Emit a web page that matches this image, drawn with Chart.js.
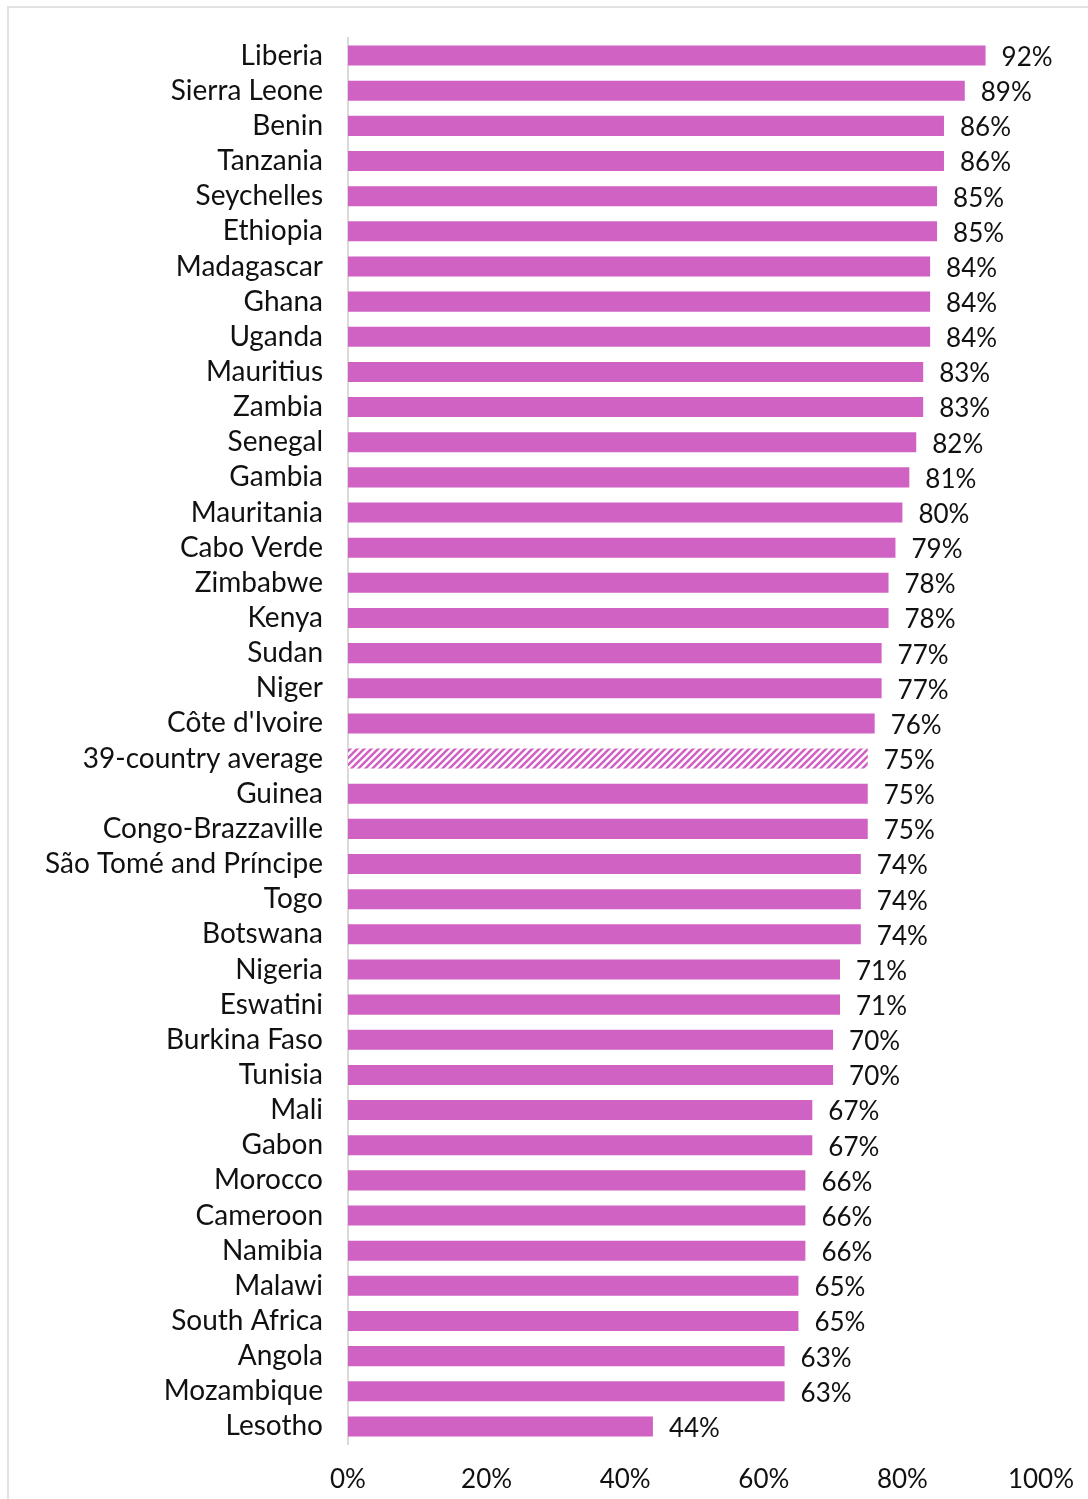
<!DOCTYPE html>
<html>
<head>
<meta charset="utf-8">
<script src="https://cdn.jsdelivr.net/npm/chart.js@4"></script>
<style>
  html, body { margin: 0; padding: 0; background: #fff; }
  .frame { position: absolute; left: 7px; top: 6px; width: 1100px; height: 1510px; border: 2px solid #e2e2e2; box-sizing: border-box; }
  .box { position: absolute; left: 0; top: 0; width: 1088px; height: 1499px; }
</style>
</head>
<body>
<div class="frame"></div>
<div class="box"><canvas id="myChart"></canvas></div>
<script>
// countries, top to bottom
const countries = [
  'Liberia', 'Sierra Leone', 'Benin', 'Tanzania', 'Seychelles', 'Ethiopia',
  'Madagascar', 'Ghana', 'Uganda', 'Mauritius', 'Zambia', 'Senegal', 'Gambia',
  'Mauritania', 'Cabo Verde', 'Zimbabwe', 'Kenya', 'Sudan', 'Niger',
  "Côte d'Ivoire", '39-country average', 'Guinea', 'Congo-Brazzaville',
  'São Tomé and Príncipe', 'Togo', 'Botswana', 'Nigeria', 'Eswatini',
  'Burkina Faso', 'Tunisia', 'Mali', 'Gabon', 'Morocco', 'Cameroon', 'Namibia',
  'Malawi', 'South Africa', 'Angola', 'Mozambique', 'Lesotho'
];
const shares = [
  92, 89, 86, 86, 85, 85, 84, 84, 84, 83, 83, 82, 81, 80, 79, 78, 78, 77, 77,
  76, 75, 75, 75, 74, 74, 74, 71, 71, 70, 70, 67, 67, 66, 66, 66, 65, 65, 63, 63, 44
];
const xTicks = [0, 20, 40, 60, 80, 100];
const averageLabel = '39-country average';

const barColor = 'rgb(208, 98, 196)';
const fontFamily = 'Lato, "Open Sans", sans-serif';

// diagonal hatch for the average bar
function makeHatch() {
  const c = document.createElement('canvas');
  c.width = 7;
  c.height = 7;
  const g = c.getContext('2d');
  g.fillStyle = '#fff';
  g.fillRect(0, 0, 7, 7);
  g.strokeStyle = barColor;
  g.lineWidth = 2.6;
  g.beginPath();
  g.moveTo(-2, 9); g.lineTo(9, -2);
  g.moveTo(-6, 6); g.lineTo(6, -6);
  g.moveTo(1, 13); g.lineTo(13, 1);
  g.stroke();
  return g.createPattern(c, 'repeat');
}
const hatch = makeHatch();
const colors = countries.map(c => (c === averageLabel ? hatch : barColor));

// writes the value just right of each bar
const valueLabels = {
  id: 'valueLabels',
  afterDatasetsDraw(chart) {
    const c = chart.ctx;
    const meta = chart.getDatasetMeta(0);
    c.save();
    c.font = '26px ' + fontFamily;
    c.fillStyle = '#111';
    c.textAlign = 'left';
    c.textBaseline = 'middle';
    meta.data.forEach((bar, i) => {
      c.fillText(shares[i] + '%', bar.x + 16, bar.y + 2);
    });
    c.restore();
  }
};

const ctx = document.getElementById('myChart').getContext('2d');
new Chart(ctx, {
  type: 'bar',
  data: {
    labels: countries,
    datasets: [{
      data: shares,
      backgroundColor: colors,
      borderWidth: 0,
      categoryPercentage: 1,
      barPercentage: 0.57,
    }],
  },
  options: {
    indexAxis: 'y',
    responsive: true,
    maintainAspectRatio: false,
    animation: false,
    devicePixelRatio: 1,
    layout: { padding: { top: 38, right: 47, left: 0, bottom: 0 } },
    plugins: {
      legend: { display: false },
      tooltip: { enabled: false },
    },
    scales: {
      x: {
        min: 0,
        max: 100,
        afterBuildTicks: axis => { axis.ticks = xTicks.map(v => ({ value: v })); },
        afterFit: axis => {
          axis.height = 55;
          axis.paddingLeft = 0;
          axis.paddingRight = 0;
        },
        grid: { display: false, drawTicks: false },
        border: { display: false },
        ticks: {
          padding: 20,
          color: '#111',
          font: { size: 26, family: fontFamily },
          callback: v => v + '%',
          maxRotation: 0,
        },
      },
      y: {
        afterFit: axis => {
          axis.width = 348;
          axis.paddingTop = 0;
          axis.paddingBottom = 0;
        },
        grid: { display: false, drawTicks: false },
        border: { display: true, color: '#d9d9d9', width: 2 },
        ticks: {
          padding: 25,
          color: '#111',
          autoSkip: false,
          font: { size: 28, family: fontFamily },
        },
      },
    },
  },
  plugins: [valueLabels],
});
</script>
</body>
</html>
